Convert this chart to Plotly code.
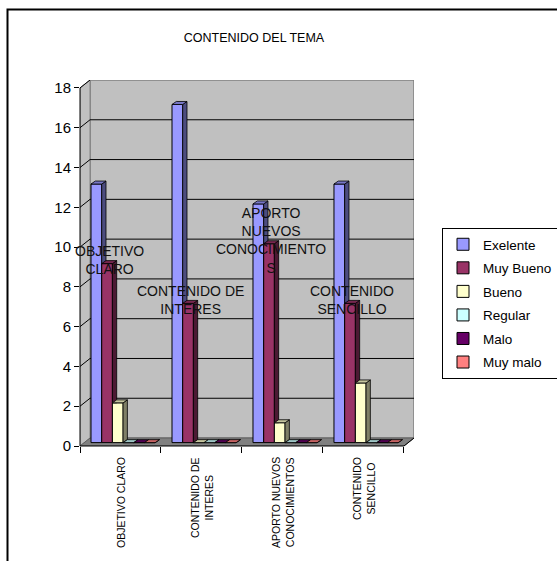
import plotly.graph_objects as go

# ---- data -------------------------------------------------------------
categories = ["OBJETIVO CLARO", "CONTENIDO DE INTERES",
              "APORTO NUEVOS CONOCIMIENTOS", "CONTENIDO SENCILLO"]
axis_labels = ["OBJETIVO CLARO", "CONTENIDO DE<br>INTERES",
               "APORTO NUEVOS<br>CONOCIMIENTOS", "CONTENIDO<br>SENCILLO"]
point_labels = ["OBJETIVO<br>CLARO", "CONTENIDO DE<br>INTERES",
                "APORTO<br>NUEVOS<br>CONOCIMIENTO<br>S", "CONTENIDO<br>SENCILLO"]
series_names = ["Exelente", "Muy Bueno", "Bueno", "Regular", "Malo", "Muy malo"]
exelente = [13, 17, 12, 13]
muy_bueno = [9, 7, 10, 7]
bueno = [2, 0, 1, 3]
regular = [0, 0, 0, 0]
malo = [0, 0, 0, 0]
muy_malo = [0, 0, 0, 0]
series_values = [exelente, muy_bueno, bueno, regular, malo, muy_malo]
colors = ["#9999FF", "#993366", "#FFFFCC", "#CCFFFF", "#660066", "#FF8080"]
y_ticks = [0, 2, 4, 6, 8, 10, 12, 14, 16, 18]
title_text = "CONTENIDO DEL TEMA"

# ---- pseudo-3D geometry (axis units) ----------------------------------
FONT = "Liberation Sans, Arial, sans-serif"
W, G = 0.132, 0.136          # bar width, gap before first bar of a group
BX, BYD = 0.053, 0.15        # bar depth (x, y)
BASE = 0.17                  # bars stand slightly back on the floor
DX, DY = 0.124, 0.4          # wall depth (x, y)
YMAX = 18
XMIN, XMAX = -0.5, len(categories) - 0.5

FIG_W, FIG_H = 557, 561
ML, MR, MT, MB = 80, 143, 80, 115
PW, PH = FIG_W - ML - MR, FIG_H - MT - MB


def px_to_paper_x(px):
    return (px - ML) / PW


def px_to_paper_y(py):
    return (FIG_H - MB - py) / PH


def shade(hex_color, f):
    h = hex_color.lstrip("#")
    r, g, b = (int(h[k:k + 2], 16) for k in (0, 2, 4))
    return "rgb({},{},{})".format(int(r * f), int(g * f), int(b * f))


fig = go.Figure()

# front faces of the columns
for i, (name, vals, col) in enumerate(zip(series_names, series_values, colors)):
    fig.add_trace(go.Bar(
        x=list(range(len(categories))), y=vals, base=BASE,
        width=W, offset=XMIN + G + i * W,
        name=name, legendgroup=name,
        marker=dict(color=col, line=dict(color="black", width=1)),
        hoverinfo="skip",
    ))

# side and top faces, series by series so nearer faces cover farther ones
for i, (name, vals, col) in enumerate(zip(series_names, series_values, colors)):
    nxt = series_values[i + 1] if i + 1 < len(series_values) else None
    sx, sy, tx, ty = [], [], [], []
    for j, v in enumerate(vals):
        xl = j + XMIN + G + i * W
        xr = xl + W
        b = BASE
        vn = None if nxt is None else nxt[j]
        if vn is None or vn < v:
            if vn is None or vn < BYD:
                sx += [xr, xr + BX, xr + BX, xr, xr, None]
                sy += [b, b + BYD, b + v + BYD, b + v, b, None]
            else:
                sx += [xr, xr + BX, xr + BX, xr, xr, None]
                sy += [b + vn, b + vn, b + v + BYD, b + v, b + vn, None]
        tx += [xl, xr, xr + BX, xl + BX, xl, None]
        ty += [b + v, b + v, b + v + BYD, b + v + BYD, b + v, None]
    if sx:
        fig.add_trace(go.Scatter(
            x=sx, y=sy, mode="lines", fill="toself", fillcolor=shade(col, 0.5),
            line=dict(color="black", width=0.8), showlegend=False,
            legendgroup=name, hoverinfo="skip"))
    fig.add_trace(go.Scatter(
        x=tx, y=ty, mode="lines", fill="toself", fillcolor=shade(col, 0.78),
        line=dict(color="black", width=0.8), showlegend=False,
        legendgroup=name, hoverinfo="skip"))

# ---- walls, floor and gridlines ---------------------------------------
shapes = []
shapes.append(dict(type="rect", xref="x", yref="y", layer="below",
                   x0=XMIN + DX, x1=XMAX + DX, y0=DY, y1=YMAX + DY,
                   fillcolor="#C0C0C0", line=dict(color="#808080", width=1.5)))
shapes.append(dict(type="path", xref="x", yref="y", layer="below",
                   path="M{a},0 L{b},{dy} L{b},{t} L{a},{m} Z".format(
                       a=XMIN, b=XMIN + DX, dy=DY, t=YMAX + DY, m=YMAX),
                   fillcolor="#C0C0C0", line=dict(color="#808080", width=1)))
shapes.append(dict(type="path", xref="x", yref="y", layer="below",
                   path="M{a},0 L{c},0 L{d},{dy} L{b},{dy} Z".format(
                       a=XMIN, b=XMIN + DX, c=XMAX, d=XMAX + DX, dy=DY),
                   fillcolor="#808080", line=dict(color="#606060", width=1)))
for v in y_ticks[1:]:
    if v < YMAX:
        p = "M{a},{v} L{b},{w} L{c},{w}".format(a=XMIN, b=XMIN + DX,
                                                c=XMAX + DX, v=v, w=v + DY)
    else:
        p = "M{a},{v} L{b},{w}".format(a=XMIN, b=XMIN + DX, v=v, w=v + DY)
    shapes.append(dict(type="path", xref="x", yref="y", layer="below",
                       path=p, line=dict(color="black", width=1)))

# axis lines
shapes.append(dict(type="line", xref="paper", yref="paper",
                   x0=0, x1=0, y0=0, y1=YMAX / (YMAX + DY),
                   line=dict(color="black", width=1)))
shapes.append(dict(type="line", xref="paper", yref="paper",
                   x0=0, x1=(XMAX - XMIN) / (XMAX + DX - XMIN), y0=0, y1=0,
                   line=dict(color="black", width=1)))
shapes.append(dict(type="line", xref="paper", yref="paper",
                   x0=(XMAX - XMIN) / (XMAX + DX - XMIN), x1=1,
                   y0=0, y1=DY / (YMAX + DY),
                   line=dict(color="black", width=1)))

# chart frame
shapes.append(dict(type="rect", xref="paper", yref="paper",
                   x0=px_to_paper_x(7.5), x1=px_to_paper_x(640),
                   y0=px_to_paper_y(640), y1=px_to_paper_y(9.5),
                   fillcolor="rgba(0,0,0,0)", line=dict(color="black", width=2)))

# ---- annotations ------------------------------------------------------
annotations = []
for j, lab in enumerate(axis_labels):
    annotations.append(dict(
        x=j, y=0, xref="x", yref="paper", text=lab, showarrow=False,
        textangle=-90, xanchor="center", yanchor="top", yshift=-9,
        align="center", font=dict(family=FONT, size=10.5, color="black")))
for j, lab in enumerate(point_labels):
    annotations.append(dict(
        x=j + XMIN + G + 1.5 * W + BX / 2, y=BASE + muy_bueno[j] + BYD / 2,
        xref="x", yref="y", text=lab, showarrow=False,
        xanchor="center", yanchor="middle", yshift=2, align="center",
        font=dict(family=FONT, size=14, color="#111111")))

fig.update_layout(
    width=FIG_W, height=FIG_H,
    margin=dict(l=ML, r=MR, t=MT, b=MB, pad=0),
    paper_bgcolor="white", plot_bgcolor="white",
    barmode="overlay",
    title=dict(text=title_text, x=254 / FIG_W, y=1 - 38 / FIG_H,
               xanchor="center", yanchor="middle",
               font=dict(family=FONT, size=12.5, color="black")),
    xaxis=dict(range=[XMIN, XMAX + DX], tickvals=[XMIN + k for k in range(len(categories) + 1)],
               ticktext=[""] * (len(categories) + 1), ticks="outside", ticklen=6,
               tickcolor="black", showgrid=False, zeroline=False, showline=False,
               fixedrange=True),
    yaxis=dict(range=[0, YMAX + DY], tickvals=y_ticks, ticks="outside", ticklen=5,
               tickcolor="black", showgrid=False, zeroline=False, showline=False,
               tickfont=dict(family=FONT, size=15, color="black"), fixedrange=True),
    legend=dict(x=442 / FIG_W, y=1 - 228 / FIG_H, xref="container", yref="container",
                xanchor="left", yanchor="top", bgcolor="white",
                bordercolor="black", borderwidth=1, traceorder="grouped",
                tracegroupgap=3, font=dict(family=FONT, size=13.5, color="black")),
    shapes=shapes, annotations=annotations,
    font=dict(family=FONT, color="black"),
    showlegend=True,
)

fig.write_html("out.html")
